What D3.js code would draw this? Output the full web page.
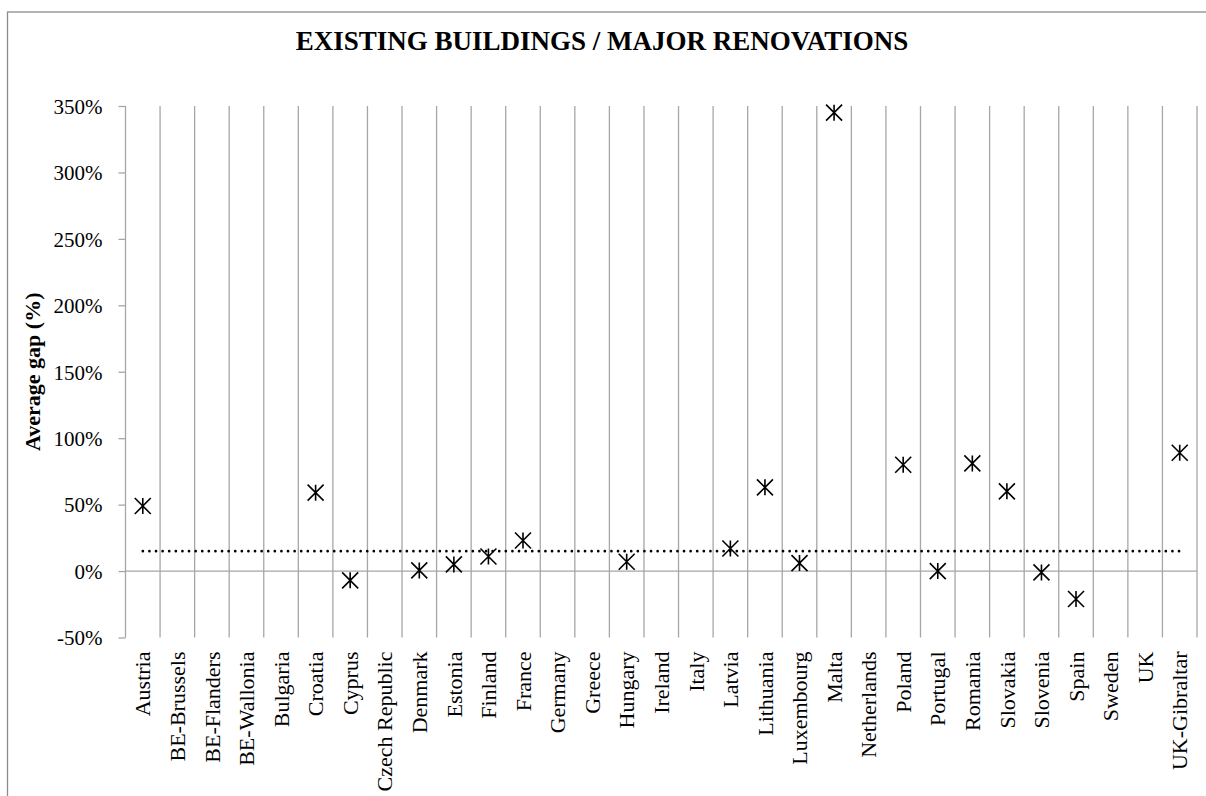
<!DOCTYPE html>
<html>
<head>
  <meta charset="utf-8">
  <title>Existing buildings / major renovations</title>
  <script src="https://d3js.org/d3.v7.min.js"></script>
  <style>
    body { margin: 0; background: #fff; }
    text { font-family: "Liberation Serif", "Times New Roman", serif; fill: #000; }
    .grid line { stroke: #a6a6a6; stroke-width: 1.3px; }
    .axis path, .axis line { stroke: #a6a6a6; stroke-width: 1.3px; }
  </style>
</head>
<body>
  <script>
    const countries = ["Austria", "BE-Brussels", "BE-Flanders", "BE-Wallonia", "Bulgaria",
      "Croatia", "Cyprus", "Czech Republic", "Denmark", "Estonia", "Finland", "France",
      "Germany", "Greece", "Hungary", "Ireland", "Italy", "Latvia", "Lithuania",
      "Luxembourg", "Malta", "Netherlands", "Poland", "Portugal", "Romania", "Slovakia",
      "Slovenia", "Spain", "Sweden", "UK", "UK-Gibraltar"];

    // average gap in %, null = no value
    const gaps = [49, null, null, null, null, 59, -7, null, 0.5, 5, 11, 23,
      null, null, 7, null, null, 17, 63, 6, 345, null, 80, 0, 81, 60,
      -1, -21, null, null, 89];

    const overallAverage = 15;
    const yTicks = [-50, 0, 50, 100, 150, 200, 250, 300, 350];

    const width = 1206;
    const height = 796;
    const plot = { left: 125.5, right: 1197, top: 106, bottom: 637.5 };

    const svg = d3.select("body").append("svg")
      .attr("width", width)
      .attr("height", height);

    // outer chart border
    svg.append("rect")
      .attr("x", 7.5).attr("y", 12)
      .attr("width", 1230).attr("height", 820)
      .attr("fill", "none")
      .attr("stroke", "#8c8c8c")
      .attr("stroke-width", 1.3);

    const x = d3.scaleBand()
      .domain(countries)
      .range([plot.left, plot.right]);

    const y = d3.scaleLinear()
      .domain([-50, 350])
      .range([plot.bottom, plot.top]);

    // vertical gridlines on category boundaries
    const bounds = countries.map(c => x(c) + x.bandwidth());
    svg.append("g").attr("class", "grid")
      .selectAll("line")
      .data(bounds)
      .join("line")
      .attr("x1", d => d).attr("x2", d => d)
      .attr("y1", plot.top).attr("y2", plot.bottom);

    // y axis
    const yAxis = svg.append("g")
      .attr("class", "axis")
      .attr("transform", `translate(${plot.left},0)`)
      .call(d3.axisLeft(y).tickValues(yTicks).tickSize(7).tickSizeOuter(0)
        .tickFormat(d => d + "%"));
    yAxis.select(".domain").attr("d", `M0,${plot.top}V${plot.bottom}`);
    yAxis.selectAll("text")
      .attr("x", -23)
      .attr("dy", "0.35em")
      .style("font-size", "21px")
      .style("font-family", "Liberation Serif");

    // horizontal axis at 0%
    svg.append("line")
      .attr("class", "zero")
      .attr("x1", plot.left).attr("x2", plot.right)
      .attr("y1", y(0)).attr("y2", y(0))
      .attr("stroke", "#a6a6a6")
      .attr("stroke-width", 1.3);

    // category labels
    svg.append("g")
      .selectAll("text")
      .data(countries)
      .join("text")
      .attr("transform", d => `translate(${x(d) + x.bandwidth() / 2},${plot.bottom + 14}) rotate(-90)`)
      .attr("dy", "0.35em")
      .attr("text-anchor", "end")
      .style("font-size", "22px")
      .text(d => d);

    // dotted average line
    const first = countries[0], last = countries[countries.length - 1];
    svg.append("line")
      .attr("x1", x(first) + x.bandwidth() / 2)
      .attr("x2", x(last) + x.bandwidth() / 2)
      .attr("y1", y(overallAverage)).attr("y2", y(overallAverage))
      .attr("stroke", "#000")
      .attr("stroke-width", 2.6)
      .attr("stroke-linecap", "round")
      .attr("stroke-dasharray", "0.1,6.5");

    // star markers
    const pts = countries.map((c, i) => ({ c, v: gaps[i] })).filter(d => d.v !== null);
    const s = 8;
    const star = `M${-s},${-s}L${s},${s}M${-s},${s}L${s},${-s}M0,${-s}L0,${s}`;
    svg.append("g")
      .selectAll("path")
      .data(pts)
      .join("path")
      .attr("transform", d => `translate(${x(d.c) + x.bandwidth() / 2},${y(d.v)})`)
      .attr("d", star)
      .attr("fill", "none")
      .attr("stroke", "#000")
      .attr("stroke-width", 1.6);

    // title
    svg.append("text")
      .attr("x", 602).attr("y", 50)
      .attr("text-anchor", "middle")
      .style("font-size", "27px")
      .style("font-weight", "bold")
      .text("EXISTING BUILDINGS / MAJOR RENOVATIONS");

    // y axis title
    svg.append("text")
      .attr("transform", `translate(40,${(plot.top + plot.bottom) / 2}) rotate(-90)`)
      .attr("text-anchor", "middle")
      .style("font-size", "22px")
      .style("font-weight", "bold")
      .text("Average gap (%)");
  </script>
</body>
</html>
